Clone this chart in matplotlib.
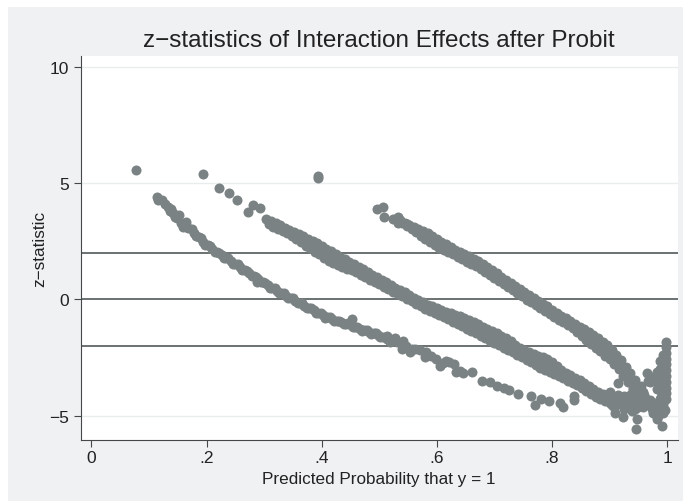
import matplotlib
matplotlib.use("Agg")
import matplotlib.pyplot as plt
from matplotlib.patches import Rectangle

plt.rcParams['font.family'] = ['Liberation Sans', 'DejaVu Sans']

# stray points at the top of each band
stray_p = [.078, .194, .222, .239, .252, .394, .394, .272, .281, .292, .496, .507, .508]
stray_z = [5.55, 5.38, 4.80, 4.57, 4.27, 5.22, 5.30, 3.74, 4.06, 3.93, 3.88, 3.96, 3.55]

# lower band
low_p = [.113, .116, .122, .133, .139, .145, .152, .159, .165,
         .174, .182, .190, .198, .206, .214, .222, .230, .238, .246, .254, .262, .270, .278,
         .286, .288, .294, .302, .310, .318, .326, .334, .342, .350, .358, .366, .374, .382,
         .390, .398, .406, .414, .422, .430, .438, .446, .452, .454, .462, .470, .478, .486,
         .494, .502, .513, .527, .541, .519, .539, .553, .562, .582, .580, .599, .616, .606,
         .630, .633, .646, .661, .679, .692, .704, .716, .725, .741, .763, .781, .771, .795,
         .814, .820, .839, .839]
low_z = [4.39, 4.28, 4.27, 3.97, 3.88, 3.54, 3.62, 3.11, 3.32,
         3.00, 2.70, 2.62, 2.35, 2.29, 2.04, 2.01, 1.78, 1.76, 1.53, 1.50, 1.27, 1.23, .99,
         .96, .74, .74, .71, .49, .48, .27, .26, .05, .05, -.16, -.17, -.38, -.38,
         -.58, -.58, -.79, -.77, -.95, -.92, -1.08, -1.04, -.85, -1.20, -1.18, -1.35, -1.32, -1.49,
         -1.46, -1.63, -1.56, -1.68, -1.78, -1.84, -2.14, -2.28, -2.14, -2.28, -2.49, -2.57, -2.64, -2.86,
         -2.78, -3.11, -3.18, -3.14, -3.50, -3.57, -3.71, -3.83, -3.90, -4.07, -4.14, -4.29, -4.55, -4.39,
         -4.47, -4.62, -4.14, -4.32]
low_c_p = [.128, .136, .142, .148, .156, .162, .168, .178, .186, .194, .202, .210, .218, .226, .234,
           .242, .250, .258, .266, .274, .282, .290, .298, .306, .314, .322, .330, .338, .346, .354,
           .362, .370, .378, .386, .394, .402, .410, .418, .426, .434, .442, .450, .458, .466, .474,
           .482, .490, .498, .506, .514, .522, .530, .546, .556, .570, .590, .610, .622, .640]
low_c_z = [4.10, 3.80, 3.70, 3.50, 3.30, 3.15, 3.05, 2.85, 2.66, 2.48, 2.32, 2.16, 2.02, 1.89, 1.77,
           1.64, 1.51, 1.38, 1.25, 1.11, .98, .85, .72, .60, .48, .37, .26, .15, .05, -.06,
           -.17, -.28, -.38, -.48, -.58, -.68, -.78, -.86, -.93, -1.00, -1.06, -1.12, -1.19, -1.26, -1.33,
           -1.40, -1.47, -1.54, -1.62, -1.70, -1.77, -1.84, -2.00, -2.15, -2.20, -2.42, -2.75, -2.72, -3.10]

# middle band, upper edge, lower edge and centre of the cloud
mid_hi_p = [.304, .312, .320, .328, .336, .344, .352, .360, .368, .376, .384, .392, .400, .408, .416,
            .424, .432, .440, .448, .456, .464, .472, .480, .488, .496, .504, .512, .520, .528, .536,
            .544, .552, .560, .568, .576, .584, .592, .600, .608, .616, .624, .632, .640, .648, .656,
            .664, .672, .680, .688, .696, .704, .712, .720, .728, .736, .744, .752, .760, .768, .776,
            .784, .792, .800, .808, .816, .824, .832, .840, .848, .856, .864, .872, .880, .888, .896]
mid_hi_z = [3.45, 3.38, 3.28, 3.20, 3.08, 2.99, 2.89, 2.79, 2.70, 2.60, 2.50, 2.40, 2.29, 2.17, 2.06,
            1.94, 1.83, 1.72, 1.61, 1.50, 1.39, 1.28, 1.16, 1.05, .94, .83, .72, .61, .50, .40,
            .29, .18, .07, -.04, -.14, -.23, -.31, -.39, -.47, -.54, -.60, -.66, -.74, -.82, -.90,
            -.98, -1.08, -1.18, -1.28, -1.38, -1.47, -1.56, -1.65, -1.80, -1.96, -2.08, -2.18, -2.28, -2.36, -2.42,
            -2.50, -2.58, -2.72, -2.88, -3.04, -3.16, -3.27, -3.38, -3.48, -3.60, -3.74, -3.88, -4.00, -4.08, -4.12]
mid_lo_p = [.308, .316, .324, .332, .340, .348, .356, .364, .372, .380, .388, .396, .404, .412, .420,
            .428, .436, .444, .452, .460, .468, .476, .484, .492, .500, .508, .516, .524, .532, .540,
            .548, .556, .564, .572, .580, .588, .596, .604, .612, .620, .628, .636, .644, .652, .660,
            .668, .676, .684, .692, .700, .708, .716, .724, .732, .740, .748, .756, .764, .772, .780,
            .788, .796, .804, .812, .820, .828, .836, .844, .852, .860, .868, .876, .884, .892, .900]
mid_lo_z = [3.22, 3.12, 3.02, 2.93, 2.84, 2.74, 2.60, 2.45, 2.31, 2.19, 2.05, 1.93, 1.79, 1.66, 1.56,
            1.47, 1.39, 1.31, 1.24, 1.15, 1.05, .95, .84, .75, .65, .54, .44, .33, .23, .13,
            .02, -.09, -.20, -.31, -.42, -.52, -.60, -.68, -.77, -.87, -.98, -1.08, -1.17, -1.27, -1.37,
            -1.47, -1.57, -1.68, -1.78, -1.88, -1.98, -2.08, -2.18, -2.28, -2.39, -2.50, -2.61, -2.72, -2.83, -2.94,
            -3.05, -3.13, -3.22, -3.31, -3.40, -3.50, -3.60, -3.70, -3.81, -3.94, -4.07, -4.19, -4.28, -4.38, -4.46]
mid_c_p = [.320, .332, .344, .356, .368, .380, .392, .404, .416, .428, .440, .452, .464, .476, .488,
           .500, .512, .524, .536, .548, .560, .572, .584, .596, .608, .620, .632, .644, .656, .668,
           .680, .692, .704, .716, .728, .740, .752, .764, .776, .788, .800, .812, .824, .836, .848,
           .860, .872, .884, .896]
mid_c_z = [3.15, 3.00, 2.87, 2.72, 2.55, 2.37, 2.20, 2.00, 1.84, 1.68, 1.55, 1.38, 1.22, 1.07, .90,
           .75, .60, .44, .27, .10, -.07, -.22, -.38, -.50, -.62, -.74, -.87, -1.00, -1.15, -1.28,
           -1.43, -1.57, -1.72, -1.87, -2.03, -2.20, -2.37, -2.53, -2.68, -2.82, -2.98, -3.15, -3.30, -3.44, -3.60,
           -3.77, -3.97, -4.15, -4.30]

# upper band
up_hi_p = [.524, .533, .536, .544, .552, .560, .568, .576, .584, .592, .600, .608, .616, .624, .632,
           .640, .648, .656, .664, .672, .680, .688, .696, .704, .712, .720, .728, .736, .744, .752,
           .760, .768, .776, .784, .792, .800, .808, .816, .824, .832, .840, .848, .856, .864, .872,
           .880, .888, .896, .904, .912, .920, .928, .936, .944]
up_hi_z = [3.45, 3.53, 3.42, 3.30, 3.20, 3.10, 3.02, 2.93, 2.83, 2.70, 2.57, 2.47, 2.36, 2.24, 2.12,
           2.02, 1.93, 1.85, 1.75, 1.63, 1.50, 1.38, 1.25, 1.11, .97, .84, .71, .58, .45, .32,
           .18, .04, -.09, -.20, -.31, -.45, -.60, -.72, -.82, -.94, -1.06, -1.18, -1.30, -1.40, -1.53,
           -1.68, -1.82, -1.98, -2.18, -2.38, -2.62, -2.90, -3.18, -3.46]
up_lo_p = [.533, .540, .548, .556, .564, .572, .580, .588, .596, .604, .612, .620, .628, .636, .644,
           .652, .660, .668, .676, .684, .692, .700, .708, .716, .724, .732, .740, .748, .756, .764,
           .772, .780, .788, .796, .804, .812, .820, .828, .836, .844, .852, .860, .868, .876, .884,
           .892, .900, .908, .916, .924, .932, .940, .948]
up_lo_z = [3.27, 3.27, 3.15, 3.02, 2.88, 2.72, 2.60, 2.47, 2.33, 2.22, 2.10, 2.02, 1.93, 1.83, 1.73,
           1.62, 1.52, 1.42, 1.30, 1.17, 1.04, .91, .79, .65, .52, .38, .26, .13, -.02, -.14,
           -.26, -.38, -.50, -.63, -.76, -.88, -.99, -1.11, -1.24, -1.40, -1.58, -1.76, -1.93, -2.08, -2.24,
           -2.42, -2.58, -2.78, -3.02, -3.28, -3.57, -3.90, -4.20]
up_c_p = [.548, .560, .572, .584, .596, .608, .620, .632, .644, .656, .668, .680, .692, .704, .716,
          .728, .740, .752, .764, .776, .788, .800, .812, .824, .836, .848, .860, .872, .884, .896,
          .908, .920, .932, .944, .956]
up_c_z = [3.22, 3.02, 2.85, 2.65, 2.50, 2.28, 2.15, 2.02, 1.88, 1.72, 1.58, 1.38, 1.20, 1.00, .82,
          .62, .42, .22, .03, -.15, -.33, -.55, -.74, -.93, -1.15, -1.38, -1.58, -1.80, -2.03, -2.25,
          -2.52, -2.85, -3.25, -3.70, -4.10]

# pile-up near p = 1
end_p = [.914, .901, .910, .924, .946, .947, .939, .918, .930, .907, .912, .925, .936, .944, .950, .958, .959,
         .941, .953, .962, .958, .966, .970, .982, .988, .982, .973, .967, .980, .985, .991, .982, .988,
         .993, .996, .998, .998, .998, .998, .998, .998, .998, .998, .998, .998, .998,
         .993, .993, .993, .993, .993, .993, .993, .993, .993, .988, .984, .978,
         .905, .915, .925, .935, .945, .955, .950, .940, .955, .935, .925, .915, .905, .965, .975, .980,
         .985, .990, .993, .988, .985, .988, .975, .967, .970, .960, .978, .964]
end_z = [-3.60, -3.97, -4.89, -5.08, -5.56, -5.15, -4.79, -4.29, -4.58, -4.64, -4.20, -4.40, -4.20, -4.40, -4.65, -4.64, -4.25,
         -4.00, -3.95, -4.55, -3.99, -3.17, -3.56, -3.14, -2.64, -3.86, -4.72, -4.40, -4.75, -5.00, -5.44, -5.15, -4.29,
         -4.79, -4.76, -1.82, -2.05, -2.30, -2.55, -2.80, -3.05, -3.30, -3.55, -3.80, -4.05, -4.30,
         -2.40, -2.70, -3.00, -3.30, -3.60, -3.90, -4.20, -4.50, -4.90, -3.30, -3.60, -4.55,
         -4.30, -4.50, -4.70, -4.50, -4.70, -4.30, -4.00, -3.80, -3.75, -4.10, -4.15, -4.10, -4.55, -4.45, -4.90, -4.60,
         -4.50, -4.20, -4.65, -3.90, -3.40, -3.00, -3.35, -3.50, -4.35, -4.10, -4.45, -4.30]

ref_lines = [-2, 0, 2]
grid_lines = [-5, 5, 10]
xticks = [0, .2, .4, .6, .8, 1]
xlabels = ['0', '.2', '.4', '.6', '.8', '1']
yticks = [-5, 0, 5, 10]
ylabels = ['\u22125', '0', '5', '10']

fig = plt.figure(figsize=(6.83, 5.02), dpi=100, facecolor='white')
fig.add_artist(Rectangle((8 / 683, 0), 675 / 683, 494 / 502, transform=fig.transFigure,
                         facecolor='#eff1f3', edgecolor='none', zorder=-5))
ax = fig.add_axes([80.5 / 683, (502 - 440.7) / 502, 597.5 / 683, 383.7 / 502])
ax.set_xlim(-.0191, 1.019)
ax.set_ylim(-6.04, 10.46)

for g in grid_lines:
    ax.axhline(g, color='#e9eded', linewidth=1, zorder=1)
for r in ref_lines:
    ax.axhline(r, color='#6a7070', linewidth=1.4, zorder=2)

for px, pz in [(stray_p, stray_z), (low_p, low_z), (low_c_p, low_c_z), (mid_hi_p, mid_hi_z),
               (mid_lo_p, mid_lo_z), (mid_c_p, mid_c_z), (up_hi_p, up_hi_z), (up_lo_p, up_lo_z),
               (up_c_p, up_c_z), (end_p, end_z)]:
    ax.scatter(px, pz, s=52, color='#7a8283', linewidths=0, zorder=3, clip_on=False)

ax.spines['top'].set_visible(False)
ax.spines['right'].set_visible(False)
ax.spines['left'].set_color('#444848')
ax.spines['bottom'].set_color('#444848')
ax.set_xticks(xticks, xlabels)
ax.set_yticks(yticks, ylabels)
ax.tick_params(length=5, width=.8, color='#444848', labelsize=12.5, labelcolor='#222222')
ax.tick_params(axis='x', pad=2.5)
ax.set_xlabel('Predicted Probability that y = 1', fontsize=12.3, color='#222222', labelpad=4)
ax.set_ylabel('z\u2212statistic', fontsize=12.3, color='#222222', labelpad=1)
fig.text(379 / 683, (502 - 47) / 502, 'z\u2212statistics of Interaction Effects after Probit',
         ha='center', va='baseline', fontsize=17.45, color='#222222')

fig.savefig('out.png', dpi=100, facecolor=fig.get_facecolor())
